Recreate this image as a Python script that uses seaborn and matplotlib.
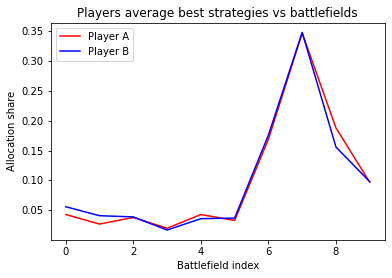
import matplotlib
matplotlib.use('Agg')
import matplotlib.pyplot as plt
import seaborn as sns
import pandas as pd

# average allocation per battlefield
battlefields = list(range(10))
player_a = [0.043, 0.027, 0.038, 0.020, 0.043, 0.033, 0.169, 0.347, 0.188, 0.097]
player_b = [0.056, 0.041, 0.039, 0.017, 0.036, 0.037, 0.176, 0.348, 0.156, 0.098]

df = pd.DataFrame({
    'Battlefield index': battlefields * 2,
    'Allocation share': player_a + player_b,
    'Player': ['Player A'] * 10 + ['Player B'] * 10,
})

fig, ax = plt.subplots(figsize=(392 / 72, 278 / 72), dpi=72)
sns.lineplot(data=df, x='Battlefield index', y='Allocation share', hue='Player',
             palette={'Player A': 'red', 'Player B': 'blue'}, ax=ax, linewidth=1.5)
ax.set_title('Players average best strategies vs battlefields', fontsize=12)
ax.set_yticks([0.05, 0.10, 0.15, 0.20, 0.25, 0.30, 0.35])
ax.legend(loc='upper left', title=None)
fig.subplots_adjust(left=0.129, right=0.982, top=0.919, bottom=0.137)
plt.savefig('out.png', dpi=72)
